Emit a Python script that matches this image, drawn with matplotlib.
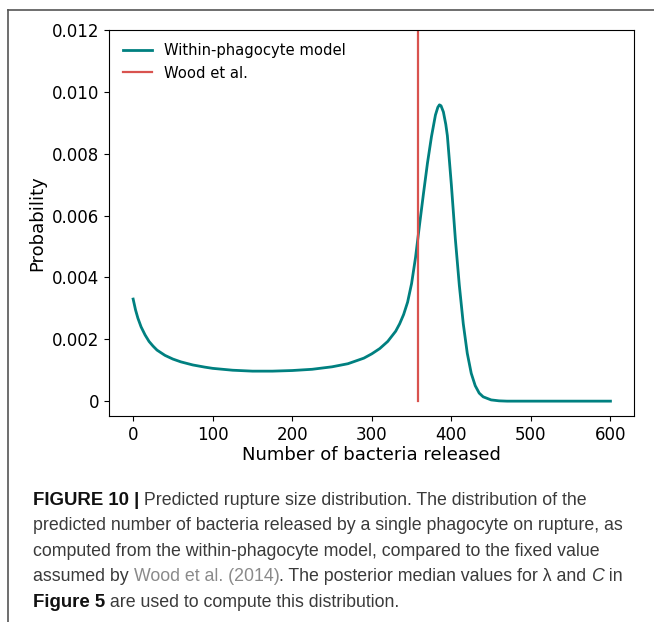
import matplotlib
matplotlib.use('Agg')
import matplotlib.pyplot as plt
from matplotlib.ticker import FuncFormatter
from matplotlib.lines import Line2D

# rupture size distribution, read per number of bacteria released
bacteria = [0, 3, 6, 10, 15, 20, 25, 30, 40, 50, 60, 75, 90, 100, 125, 150, 160,
            175, 200, 225, 250, 270, 290, 300, 310, 320, 330, 335, 340, 345, 350,
            355, 360, 365, 370, 375, 380, 383, 385, 387, 390, 393, 395, 400, 405,
            410, 415, 420, 425, 430, 435, 440, 450, 460, 470, 500, 550, 600]
probability = [0.00330, 0.00295, 0.00268, 0.00240, 0.00214, 0.00193, 0.00178,
               0.00165, 0.00148, 0.00136, 0.00127, 0.00117, 0.00110, 0.00106,
               0.00100, 0.00097, 0.00097, 0.00097, 0.00099, 0.00103, 0.00111,
               0.00121, 0.00139, 0.00153, 0.00170, 0.00193, 0.00226, 0.00250,
               0.00280, 0.00320, 0.00380, 0.00465, 0.00570, 0.00672, 0.00770,
               0.00855, 0.00925, 0.00950, 0.00958, 0.00955, 0.00935, 0.00895,
               0.00858, 0.00700, 0.00525, 0.00375, 0.00250, 0.00155, 0.00090,
               0.00050, 0.00026, 0.00014, 0.00004, 0.00001, 0.0, 0.0, 0.0, 0.0]

# fixed rupture size used by Wood et al.
wood_value = 358
wood_range = [0, 0.012]

x_ticks = [0, 100, 200, 300, 400, 500, 600]
y_ticks = [0, 0.002, 0.004, 0.006, 0.008, 0.010, 0.012]

teal = '#008080'
red = '#d9534f'

fig = plt.figure(figsize=(6.54, 6.22), dpi=100)
ax = fig.add_axes([0.1671, 0.3312, 0.8028, 0.6206])

ax.plot(bacteria, probability, color=teal, lw=2, label='Within-phagocyte model')
ax.plot([wood_value, wood_value], wood_range, color=red, lw=1.6, label='Wood et al.')

ax.set_xlim(-30, 630)
ax.set_ylim(-0.00048, 0.012)
ax.set_xticks(x_ticks)
ax.set_yticks(y_ticks)
ax.yaxis.set_major_formatter(FuncFormatter(lambda v, p: '0' if v == 0 else f'{v:.3f}'))
ax.tick_params(labelsize=12)
ax.set_xlabel('Number of bacteria released', fontsize=13, labelpad=2)
ax.set_ylabel('Probability', fontsize=13)
ax.legend(loc='upper left', frameon=False, fontsize=10.6, handlelength=2.0)

# panel frame: left and top edges only
fig.add_artist(Line2D([7.5 / 654, 7.5 / 654], [0, 1 - 9.5 / 622], color='#555555', lw=1.2))
fig.add_artist(Line2D([7.5 / 654, 1], [1 - 9.5 / 622, 1 - 9.5 / 622], color='#555555', lw=1.2))

# caption: each line is a list of (text, weight, style, colour) runs
cap_font = 'Liberation Sans'
reg_size = 12.8
bold_size = 13.4
cap_color = '#3a3a3a'
caption = [
    [('FIGURE 10 |', 'bold', 'normal', '#111111'),
     (' Predicted rupture size distribution. The distribution of the', 'normal', 'normal', cap_color)],
    [('predicted number of bacteria released by a single phagocyte on rupture, as', 'normal', 'normal', cap_color)],
    [('computed from the within-phagocyte model, compared to the fixed value', 'normal', 'normal', cap_color)],
    [('assumed by ', 'normal', 'normal', cap_color),
     ('Wood et al. (2014)', 'normal', 'normal', '#8a8a8a'),
     ('. The posterior median values for λ and ', 'normal', 'normal', cap_color),
     ('C', 'normal', 'italic', cap_color),
     (' in', 'normal', 'normal', cap_color)],
    [('Figure 5', 'bold', 'normal', '#111111'),
     (' are used to compute this distribution.', 'normal', 'normal', cap_color)],
]
line_y = [505, 530, 556, 581, 607]

fig.canvas.draw()
renderer = fig.canvas.get_renderer()
for runs, y in zip(caption, line_y):
    x = 33
    base = 622 - y  # baseline in display pixels
    for text, weight, style, color in runs:
        t = fig.text(x, base, text, transform=None,
                     fontsize=bold_size if weight == 'bold' else reg_size,
                     family=cap_font, fontweight=weight, fontstyle=style,
                     color=color, ha='left', va='baseline')
        # next run starts where this one ends
        x = t.get_window_extent(renderer).x1

fig.savefig('out.png', dpi=100)
